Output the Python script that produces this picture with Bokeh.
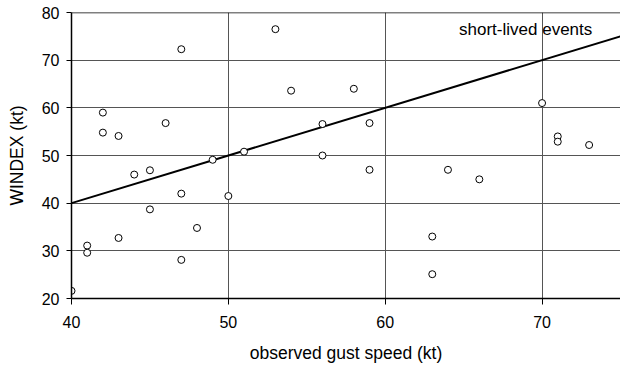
from bokeh.plotting import figure
from bokeh.models import Span, Range1d, FixedTicker, Label
from bokeh.embed import file_html
from bokeh.resources import INLINE

gust = [42, 42, 43, 44, 45, 46, 47, 49, 51, 53, 54, 58, 56, 59, 70, 71, 71, 73,
        56, 59, 64, 66, 47, 50, 45, 48, 43, 41, 41, 47, 40, 63, 63]
windex = [59.0, 54.8, 54.1, 46.0, 46.9, 56.8, 72.3, 49.1, 50.8, 76.5, 63.6, 64.0,
          56.6, 56.8, 61.0, 54.0, 52.9, 52.2, 50.0, 47.0, 47.0, 45.0, 42.0, 41.5,
          38.7, 34.8, 32.7, 31.1, 29.6, 28.1, 21.6, 33.0, 25.1]
fit_x = [40, 75]
fit_y = [40, 75]
x_ticks = [40, 50, 60, 70]
y_ticks = [20, 30, 40, 50, 60, 70, 80]

FONT = "Liberation Sans"

p = figure(width=620, height=365, output_backend="svg", toolbar_location=None,
           x_range=Range1d(40, 75), y_range=Range1d(20, 80),
           min_border_left=71, min_border_right=0, min_border_top=12, min_border_bottom=67)
p.outline_line_color = None
p.background_fill_color = "white"
p.border_fill_color = "white"

p.xgrid.ticker = FixedTicker(ticks=[50, 60, 70])
p.ygrid.ticker = FixedTicker(ticks=[30, 40, 50, 60, 70])
for g in (p.xgrid, p.ygrid):
    g.grid_line_color = "#555555"
    g.grid_line_width = 1

p.xaxis.ticker = FixedTicker(ticks=x_ticks)
p.yaxis.ticker = FixedTicker(ticks=y_ticks)
for ax in (p.xaxis, p.yaxis):
    ax.axis_line_color = "black"
    ax.axis_line_width = 1.5
    ax.major_tick_line_color = "black"
    ax.minor_tick_line_color = None
    ax.major_tick_in = 0
    ax.major_label_text_font = FONT
    ax.major_label_text_font_size = "16px"
    ax.major_label_text_color = "black"
    ax.axis_label_text_font = FONT
    ax.axis_label_text_font_size = "17.5px"
    ax.axis_label_text_font_style = "normal"
    ax.axis_label_text_color = "black"
p.xaxis.major_tick_out = 6
p.yaxis.major_tick_out = 5
p.xaxis.axis_label = "observed gust speed (kt)"
p.yaxis.axis_label = "WINDEX (kt)"
p.xaxis.major_label_standoff = 11
p.yaxis.major_label_standoff = 7
p.xaxis.axis_label_standoff = 12
p.yaxis.axis_label_standoff = 12

p.add_layout(Span(location=80, dimension="width", line_color="black", line_width=1.5))

p.line(fit_x, fit_y, line_color="black", line_width=2)
p.scatter(gust, windex, size=7, fill_color="white", line_color="black", line_width=1)

p.add_layout(Label(x=73.2, y=76.5, text="short-lived events",
                   text_font=FONT, text_font_size="17px", text_align="right",
                   text_baseline="middle", text_color="black"))

open("out.html", "w").write(file_html(p, INLINE))
